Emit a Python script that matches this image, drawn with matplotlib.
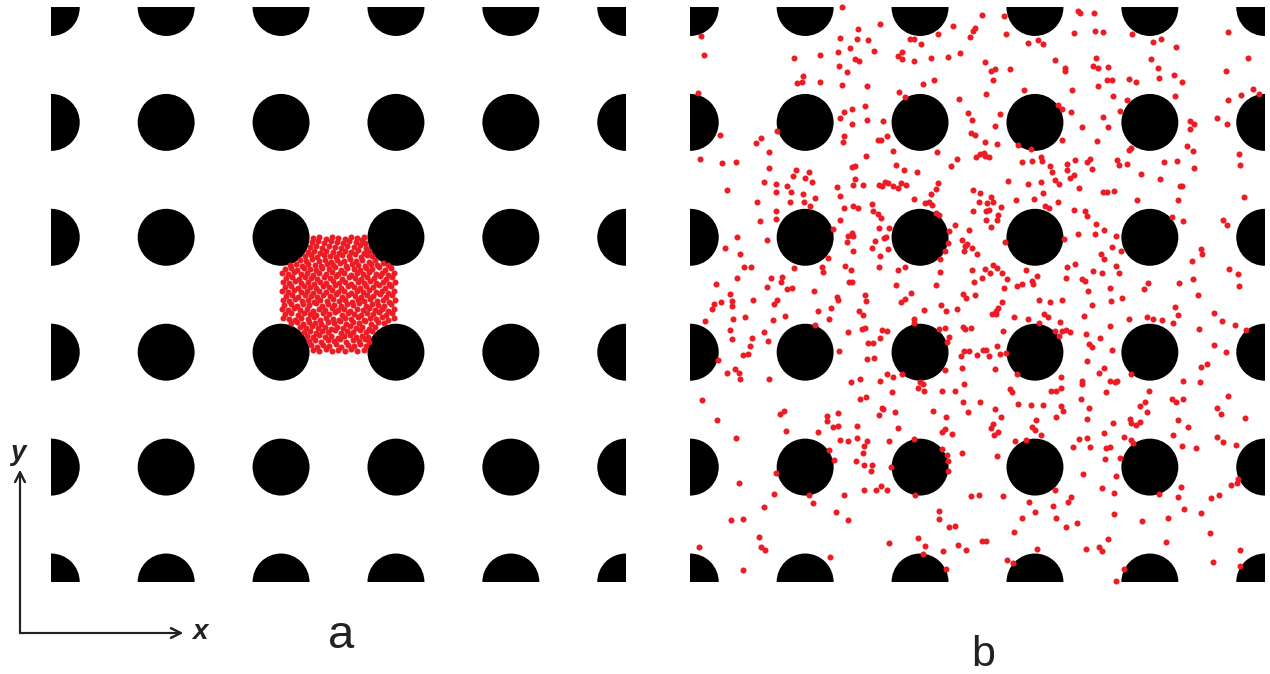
import matplotlib
matplotlib.use("Agg")
import matplotlib.pyplot as plt
from matplotlib.patches import Circle

# Lattice geometry (arbitrary length units, lattice pitch = 115)
PITCH = 115.0
PILLAR_RADIUS = 28.5
lattice_cols = [0, 1, 2, 3, 4, 5]
lattice_rows = [0, 1, 2, 3, 4, 5]

# Panel a: particles still confined to the unit cell between four pillars
a_dots = [
    (262,232),(268,231),(275,233),(281,231),(287,232),(294,231),(300,233),(306,231),(313,232),
    (260,237),(266,235),(272,237),(278,236),(285,238),(290,235),(297,237),(303,236),(309,238),(315,236),
    (258,241),(264,242),(270,240),(277,242),(283,241),(289,243),(295,240),(302,242),(308,241),(314,243),(318,240),
    (256,246),(262,245),(268,247),(274,245),(280,246),(287,244),(293,246),(299,247),(305,245),(311,246),(317,245),
    (253,250),(259,251),(265,249),(271,251),(277,250),(284,252),(290,249),(296,251),(302,250),(309,252),(315,250),(321,251),
    (249,255),(255,254),(261,256),(267,254),(274,255),(280,253),(286,255),(292,254),(299,256),(305,254),(311,255),(318,253),(324,255),
    (240,259),(246,260),(252,258),(258,260),(264,259),(270,258),(277,260),(283,259),(289,261),(295,258),(302,260),(308,259),(314,261),(320,258),(327,260),(333,259),
    (232,264),(238,263),(244,262),(250,264),(257,263),(263,265),(269,262),(275,264),(282,263),(288,262),(294,264),(300,263),(307,265),(313,262),(319,264),(325,263),(331,265),(337,262),(343,264),
    (234,268),(240,269),(247,267),(253,269),(259,268),(265,267),(272,269),(278,268),(284,270),(291,267),(297,269),(303,268),(310,267),(316,269),(322,268),(328,270),(335,267),(341,269),
    (231,273),(237,272),(243,274),(249,272),(256,273),(262,271),(268,273),(274,272),(281,274),(287,272),(293,273),(299,271),(306,273),(312,272),(318,274),(324,272),(331,273),(337,271),(343,273),
    (233,277),(240,278),(246,276),(252,278),(258,277),(265,279),(271,276),(277,278),(283,277),(290,276),(296,278),(302,277),(308,279),(315,276),(321,278),(327,277),(333,276),(340,278),
    (232,282),(238,281),(244,283),(251,281),(257,282),(263,280),(269,282),(276,281),(282,283),(288,281),(294,282),(301,280),(307,282),(313,281),(319,283),(326,281),(332,282),(338,280),(344,282),
    (235,286),(241,287),(247,285),(254,287),(260,286),(266,285),(272,287),(279,286),(285,288),(291,285),(297,287),(304,286),(310,285),(316,287),(322,286),(329,288),(335,285),(341,287),
    (231,291),(237,290),(243,292),(250,290),(256,291),(262,289),(268,291),(275,290),(281,292),(287,290),(293,291),(300,289),(306,291),(312,290),(318,292),(325,290),(331,291),(337,289),(343,291),
    (234,295),(240,296),(247,294),(253,296),(259,295),(265,294),(272,296),(278,295),(284,297),(290,294),(297,296),(303,295),(309,294),(315,296),(322,295),(328,297),(334,294),(340,296),
    (232,300),(238,299),(244,301),(250,299),(257,300),(263,298),(269,300),(275,299),(282,301),(288,299),(294,300),(300,298),(307,300),(313,299),(319,301),(325,299),(332,300),(338,298),(344,300),
    (235,304),(241,305),(248,303),(254,305),(260,304),(266,303),(273,305),(279,304),(285,306),(291,303),(298,305),(304,304),(310,303),(316,305),(323,304),(329,306),(335,303),(341,305),
    (231,309),(237,308),(243,310),(250,308),(256,309),(262,307),(268,309),(275,308),(281,310),(287,308),(293,309),(300,307),(306,309),(312,308),(318,310),(325,308),(331,309),(337,307),(343,309),
    (234,313),(240,314),(246,312),(253,314),(259,313),(265,312),(271,314),(278,313),(284,315),(290,312),(296,314),(303,313),(309,312),(315,314),(321,313),(328,315),(334,312),(340,314),
    (239,317),(245,318),(251,316),(257,318),(264,317),(270,316),(276,318),(282,317),(289,319),(295,316),(301,318),(307,317),(314,316),(320,318),(326,317),(332,319),(337,317),
    (249,322),(255,321),(261,323),(268,321),(274,322),(280,320),(286,322),(293,321),(299,323),(305,321),(311,322),(318,320),(324,322),
    (254,326),(260,327),(266,325),(273,327),(279,326),(285,325),(291,327),(298,326),(304,328),(310,325),(316,327),(321,326),
    (257,330),(263,331),(269,329),(275,331),(282,330),(288,329),(294,331),(300,330),(307,332),(313,329),(318,331),
    (259,335),(265,336),(271,334),(278,336),(284,335),(290,334),(296,336),(303,335),(309,337),(315,334),
    (261,340),(267,341),(273,339),(280,341),(286,340),(292,339),(298,341),(305,340),(311,342),(314,339),
    (262,344),(268,345),(275,343),(281,345),(287,344),(294,343),(300,345),(306,344),(313,345),
]

# Panel b: particles after spreading through the pillar array
b_dots = [
    (152,575),(11,546),(14,527),(190,558),(168,553),(150,544),(167,543),(178,542),(160,534),(148,530),
    (184,531),(130,527),(104,524),(165,523),(169,521),(149,516),(157,510),(113,506),(112,500),(107,499),
    (130,500),(152,497),(177,496),(8,489),(175,476),(162,473),(154,470),(150,464),(177,462),(193,461),
    (162,458),(30,447),(87,451),(71,444),(66,439),(154,446),(153,440),(188,442),(191,442),(79,430),
    (176,426),(10,423),(32,419),(46,420),(79,414),(106,412),(162,415),(165,416),(119,410),(103,406),
    (115,404),(122,400),(165,403),(74,400),(86,398),(97,396),(147,395),(163,397),(173,397),(189,397),
    (192,396),(37,392),(86,390),(101,390),(113,388),
    (292,567),(314,566),(384,549),(263,556),(285,554),(283,551),(316,548),(280,545),(248,548),(220,543),
    (224,543),(231,538),(338,539),(348,542),(353,538),(212,530),(208,526),(212,523),(224,521),(241,524),
    (258,525),(270,529),(295,520),(365,522),(375,514),(375,511),(320,513),(301,511),(305,513),(303,502),
    (233,498),(244,502),(209,490),(215,485),(334,492),(382,492),(296,488),(269,483),(368,477),(372,473),
    (381,470),(278,469),(310,468),(282,462),(305,456),(197,446),(281,449),(285,447),(295,440),(307,438),
    (328,437),(341,433),(372,442),(203,431),(247,430),(290,428),(294,429),(286,425),(295,426),(299,425),
    (267,423),(261,416),(206,417),(214,412),(227,410),(332,420),(342,421),(351,425),(352,421),(377,418),
    (385,422),(360,416),(362,410),(377,412),(384,407),(380,404),(365,402),(369,398),(351,400),(338,398),
    (318,401),(195,400),(198,399),(203,396),(208,394),(211,399),(216,397),(248,399),(246,393),(241,388),
    (283,392),(290,389),(353,389),
    (388,571),(390,569),(404,569),(405,551),(413,550),(442,548),(463,540),(471,543),(486,535),(538,550),
    (406,524),(403,516),(408,514),(418,515),(461,523),(468,514),(558,524),(536,511),(484,507),(469,504),
    (492,500),(439,503),(446,500),(417,502),(422,502),(408,496),(423,486),(437,482),(485,486),(563,493),
    (569,488),(551,487),(538,482),(430,471),(413,465),(418,455),(392,455),(527,464),(537,458),(500,461),
    (504,458),(500,453),(407,441),(497,436),(503,431),(441,434),(439,432),(400,423),(397,420),(427,422),
    (429,417),(437,418),(402,413),(474,420),(487,421),(504,414),(549,428),(550,417),(451,408),(470,403),
    (389,394),(490,396),(492,396),(413,390),(417,390),(424,391),
    (67,380),(100,380),(125,384),(150,386),(114,380),(120,376),(86,371),(86,363),(70,361),(154,374),
    (163,376),(168,374),(182,378),(183,371),(188,368),(191,364),(150,362),(143,353),(162,349),(158,346),
    (163,346),(157,340),(189,354),(194,344),(185,341),(182,334),(163,331),(190,326),(47,345),(77,342),
    (35,334),(50,328),(138,324),(54,315),(61,315),(104,314),(132,315),(133,310),(155,316),(161,312),
    (189,315),(47,304),(81,304),(92,305),(91,300),(159,300),(162,300),(26,298),(77,295),(97,293),
    (102,294),(124,291),(40,288),(42,281),(31,280),(24,278),(22,273),(42,276),(63,282),(87,282),
    (84,278),(147,285),(148,282),(175,287),(176,281),(141,274),(128,271),(169,271),(173,267),(43,263),
    (55,265),(95,266),(83,262),(139,263),(15,261),(125,257),(172,253),(175,254),(192,252),(158,250),
    (40,252),(42,243),(62,244),(74,250),(78,241),(190,244),(178,239),(183,239),(60,236),(53,227),
    (58,228),(149,231),(177,223),(184,224),(28,222),(45,213),(37,209),(49,209),(50,203),(79,203),
    (161,200),(170,203),(190,201),
    (224,383),(235,379),(239,380),(242,377),(289,380),(297,379),(301,385),(303,380),(311,375),(326,382),
    (344,383),(368,380),(355,376),(359,374),(384,372),(283,371),(296,371),(299,372),(308,367),(296,362),
    (307,362),(301,355),(246,369),(249,367),(265,357),(279,352),(199,354),(196,345),(198,333),(259,351),
    (258,339),(255,331),(250,323),(272,342),(277,338),(275,336),(274,331),(282,334),(287,328),(315,340),
    (374,343),(215,315),(208,312),(250,310),(282,312),(295,313),(303,317),(307,314),(300,309),(312,309),
    (317,303),(292,304),(284,300),(336,312),(347,306),(342,301),(343,298),(332,298),(327,296),(314,294),
    (377,315),(385,318),(376,304),(206,297),(246,297),(221,289),(215,283),(211,280),(273,288),(276,284),
    (285,287),(251,277),(256,271),(234,272),(267,273),(312,280),(308,274),(306,271),(302,268),(306,268),
    (349,282),(360,280),(372,282),(324,265),(338,263),(354,268),(358,265),(370,260),(224,263),(224,259),
    (197,251),(249,253),(255,254),(273,255),(275,253),(281,254),(259,245),(257,240),(313,251),(349,259),
    (365,251),(369,246),(372,251),(376,252),(380,250),(307,236),(271,226),(274,231),(279,231),(287,227),
    (293,232),(296,232),(299,226),(310,228),(316,229),(272,214),(255,212),(305,213),(197,208),(203,205),
    (212,208),(230,200),(233,198),(274,198),(327,208),(371,205),
    (447,382),(488,382),(554,385),(395,371),(397,366),(406,358),(414,352),(405,348),(388,348),(426,346),
    (482,365),(493,361),(533,362),(537,357),(422,335),(431,331),(411,328),(414,323),(426,316),(429,309),
    (403,311),(412,309),(392,303),(395,301),(398,291),(420,294),(421,281),(432,284),(402,277),(394,266),
    (420,256),(396,248),(410,244),(399,238),(402,235),(422,232),(397,221),(414,214),(409,209),(392,201),
    (392,198),(420,201),(425,200),(427,201),(441,208),(458,299),(454,293),(439,263),(457,265),(463,263),
    (472,262),(483,259),(485,275),(488,267),(489,299),(511,333),(512,328),(502,321),(503,303),(508,287),
    (509,253),(524,269),(532,261),(545,257),(556,252),(539,313),(548,308),(549,296),(524,237),(536,230),
    (517,218),(511,215),(493,201),(510,200),
    (12,182),(27,162),(46,144),(90,168),(94,171),(96,151),(128,150),(137,166),(137,161),(148,169),
    (143,155),(148,156),(170,183),(176,185),(192,174),(189,167),(167,156),(167,144),(150,142),(158,141),
    (177,141),(174,136),(173,129),(139,132),(144,122),(166,121),(174,117),(182,117),(181,111),(191,96),
    (186,92),(174,92),(154,87),(86,109),(49,99),(84,88),(119,87),(123,79),(74,75),(146,70),
    (158,62),(41,62),(53,63),(69,45),(71,35),(75,32),(9,35),(140,25),(53,12),
    (202,190),(228,194),(234,191),(252,191),(265,191),(273,180),(290,180),(320,193),(322,190),(361,191),
    (366,191),(371,194),(193,173),(205,170),(243,171),(278,170),(256,165),(208,154),(255,153),(252,150),
    (262,148),(199,141),(224,143),(252,133),(257,127),(258,121),(258,111),(272,129),(201,115),(225,87),
    (197,92),(305,173),(311,165),(328,178),(341,177),(353,177),(371,176),(373,171),(366,165),(346,162),
    (303,158),(301,154),(308,150),(304,147),(342,155),(345,152),(351,147),(325,141),(336,142),(383,135),
    (307,126),(281,86),(289,87),(313,86),(365,92),(339,80),(363,76),(378,80),(381,85),(345,70),
    (332,64),(366,64),(376,55),(249,71),(249,63),(259,55),(265,56),(324,50),(199,39),(228,44),
    (235,36),(253,31),(268,37),(276,32),(292,41),(296,41),(233,28),(256,13),(317,22),(323,19),(347,33),
    (416,190),(459,191),(391,183),(399,174),(397,163),(389,143),(397,144),(400,135),(414,149),(423,159),
    (416,134),(420,135),(415,123),(430,124),(434,145),(440,163),(441,159),(446,157),(450,160),(450,176),
    (455,180),(457,170),(441,142),(443,139),(482,183),(486,180),(493,183),(488,162),(498,155),(483,147),
    (492,136),(506,134),(538,186),(527,174),(531,168),(555,164),(527,145),(533,140),(546,137),(393,108),
    (426,106),(412,94),(424,89),(469,88),(491,95),(488,85),(494,73),(511,69),(521,84),(529,87),
    (541,97),(547,99),(548,103),(424,68),(452,61),(478,64),(387,59),(520,49),(418,43),(476,40),
    (396,33),(409,35),(412,31),(550,32),(523,20),(550,16),(434,13),(426,1),
]

panel_labels = ["a", "b"]

DOT_COLOR = "#ED1C24"
W, H = 1270, 674
fig = plt.figure(figsize=(W / 100, H / 100), dpi=100)
fig.patch.set_facecolor("white")
plt.rcParams["font.family"] = ["Liberation Sans", "DejaVu Sans"]

extent = PITCH * (len(lattice_cols) - 1)


def draw_panel(ax, dots):
    ax.set_xlim(0, extent)
    ax.set_ylim(0, extent)
    ax.set_aspect("equal")
    ax.axis("off")
    for i in lattice_cols:
        for j in lattice_rows:
            ax.add_patch(Circle((i * PITCH, j * PITCH), PILLAR_RADIUS,
                                facecolor="black", edgecolor="none", zorder=1))
    xs = [d[0] for d in dots]
    ys = [d[1] for d in dots]
    ax.scatter(xs, ys, s=19, color=DOT_COLOR, linewidths=0, zorder=3, clip_on=False)


ax_a = fig.add_axes([51 / W, 92 / H, 575 / W, 574.5 / H])
ax_b = fig.add_axes([690 / W, 92 / H, 575 / W, 574.5 / H])
draw_panel(ax_a, a_dots)
draw_panel(ax_b, b_dots)

# Coordinate system arrows
arrow_kw = dict(arrowstyle="->,head_length=0.7,head_width=0.35", color="#222222", lw=1.5,
                shrinkA=0, shrinkB=0)
fig.add_artist(plt.annotate("", xy=(183 / W, 41 / H), xytext=(20 / W, 41 / H),
                            xycoords="figure fraction", textcoords="figure fraction",
                            arrowprops=arrow_kw))
fig.add_artist(plt.annotate("", xy=(20 / W, 204 / H), xytext=(20 / W, 41 / H),
                            xycoords="figure fraction", textcoords="figure fraction",
                            arrowprops=arrow_kw))
fig.text(200 / W, 42 / H, "x", fontsize=20, fontweight="bold", fontstyle="italic",
         ha="center", va="center", color="#222222")
fig.text(18 / W, 221 / H, "y", fontsize=20, fontweight="bold", fontstyle="italic",
         ha="center", va="center", color="#222222")

fig.text(341 / W, 26 / H, panel_labels[0], fontsize=34, ha="center", va="baseline", color="#222222")
fig.text(983 / W, 8 / H, panel_labels[1], fontsize=31, ha="center", va="baseline", color="#222222")

fig.savefig("out.png", dpi=100, facecolor="white")
